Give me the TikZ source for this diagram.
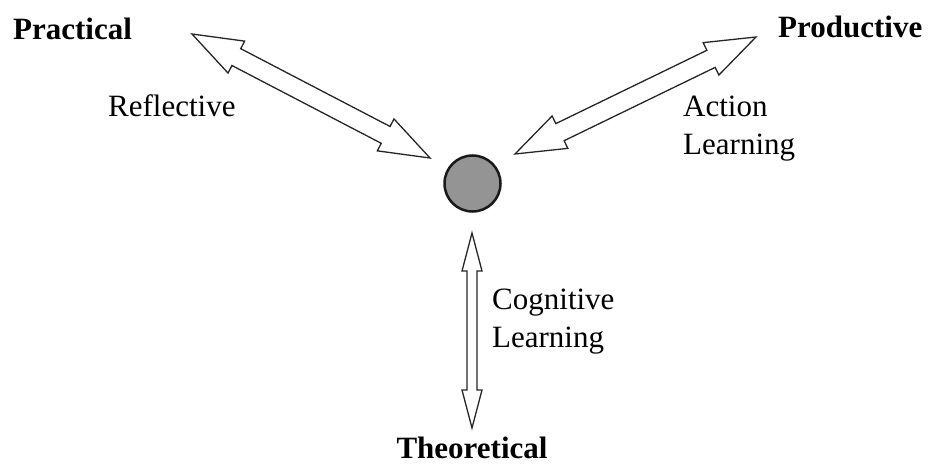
\documentclass[tikz,border=0pt]{standalone}
\usepackage{fontspec}
\setmainfont{Liberation Serif}
\usepackage{tikz}
\usetikzlibrary{calc,positioning}

% block double arrow between two named points: #1,#2 ends, #3 head length, #4 head half width, #5 shaft half width
\newcommand{\blockarrow}[5]{%
  \draw[blockline] (#1) -- ($(#1)!#3!(#2)!#4!90:(#2)$) -- ($(#1)!#3!(#2)!#5!90:(#2)$)
    -- ($(#2)!#3!(#1)!#5!-90:(#1)$) -- ($(#2)!#3!(#1)!#4!-90:(#1)$) -- (#2)
    -- ($(#2)!#3!(#1)!#4!90:(#1)$) -- ($(#2)!#3!(#1)!#5!90:(#1)$)
    -- ($(#1)!#3!(#2)!#5!-90:(#2)$) -- ($(#1)!#3!(#2)!#4!-90:(#2)$) -- cycle;}

\begin{document}
\begin{tikzpicture}[x=1pt, y=-1pt]
    \tikzstyle{corner} = [font=\fontsize{31}{38}\selectfont\bfseries, inner sep=0pt]
    \tikzstyle{label} = [font=\fontsize{31}{38}\selectfont, align=left, inner sep=0pt]
    \tikzstyle{blockline} = [draw=black!85, line width=1.3pt, fill=white, line join=miter]
    \tikzstyle{hubstyle} = [circle, draw=black!90, line width=2.5pt, fill=black!42, minimum size=56pt, inner sep=0pt]

    \useasboundingbox (0,0) rectangle (928,468);

    \node [hubstyle] (hub) at (472.5,183.5) {};
    \node [corner, anchor=base west] (practical) at (13,40) {Practical};
    \node [corner, anchor=base west] (productive) at (778,38) {Productive};
    \node [corner, anchor=base] (theoretical) at (472,458) {Theoretical};

    \node [label, anchor=base west] (reflective) at (108,117) {Reflective};
    \node [label, anchor=north west] (action) at (683,96) {Action\\Learning};
    \node [label, anchor=north west] (cognitive) at (492,289) {Cognitive\\Learning};

    % arrow ends
    \coordinate (practicalTip) at (192,34);
    \coordinate (hubPractical) at (430,158);
    \coordinate (productiveTip) at (756,37);
    \coordinate (hubProductive) at (515,154);
    \coordinate (hubTheoretical) at (472,233);
    \coordinate (theoreticalTip) at (472,428);

    \blockarrow{practicalTip}{hubPractical}{50pt}{18pt}{9.5pt}
    \blockarrow{hubProductive}{productiveTip}{50pt}{18pt}{9.5pt}
    \blockarrow{hubTheoretical}{theoreticalTip}{38pt}{10pt}{5pt}
\end{tikzpicture}
\end{document}
